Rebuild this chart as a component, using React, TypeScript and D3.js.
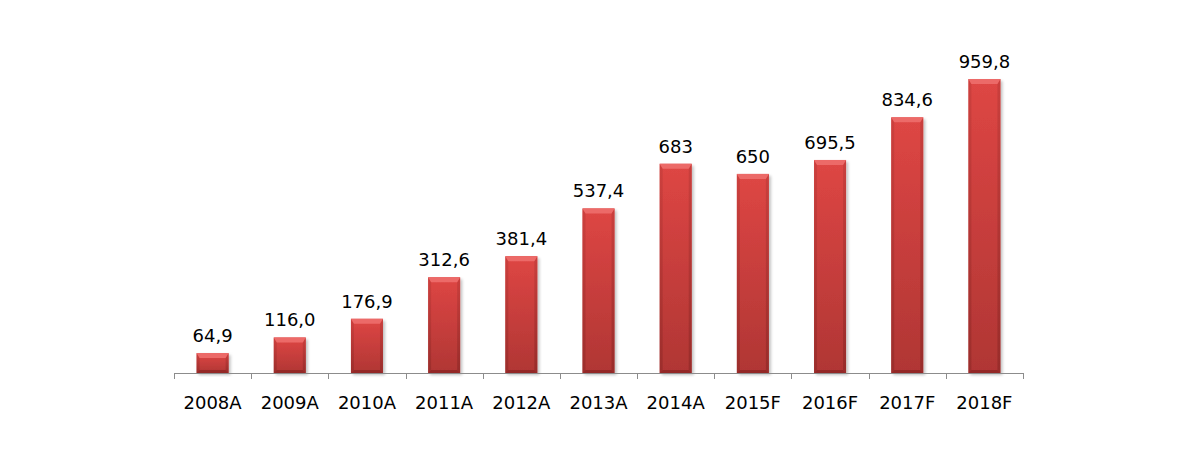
import React from "react";
import * as d3 from "d3";

const categories = ["2008A","2009A","2010A","2011A","2012A","2013A","2014A","2015F","2016F","2017F","2018F"];
const values = [64.9,116.0,176.9,312.6,381.4,537.4,683,650,695.5,834.6,959.8];
const valueLabels = ["64,9","116,0","176,9","312,6","381,4","537,4","683","650","695,5","834,6","959,8"];

export default function App() {
  const W = 1201, H = 449;
  const x = d3.scaleBand<string>().domain(categories).range([174, 1023]).paddingInner(0).paddingOuter(0);
  const y = d3.scaleLinear().domain([0, 959.8]).range([373, 79]);
  const bw = 32;
  const font = "'DejaVu Sans', Verdana, sans-serif";
  return (
    <svg width={W} height={H} style={{ position: "absolute", left: 0, top: 0 }}>
      <defs>
        <linearGradient id="bar" x1="0" y1="0" x2="0" y2="1">
          <stop offset="0" stopColor="#de4644" />
          <stop offset="1" stopColor="#b03634" />
        </linearGradient>
        <linearGradient id="side" x1="0" y1="0" x2="0" y2="1">
          <stop offset="0" stopColor="#c23c3a" />
          <stop offset="1" stopColor="#8e2826" />
        </linearGradient>
        <filter id="sh" x="-30%" y="-10%" width="160%" height="130%">
          <feGaussianBlur in="SourceAlpha" stdDeviation="1.8" />
          <feOffset dx="1.5" dy="1.5" result="o" />
          <feComponentTransfer><feFuncA type="linear" slope="0.25" /></feComponentTransfer>
          <feMerge><feMergeNode /><feMergeNode in="SourceGraphic" /></feMerge>
        </filter>
      </defs>
      {categories.map((c, i) => {
        const cx = (x(c) as number) + x.bandwidth() / 2;
        const x0 = cx - bw / 2, x1 = cx + bw / 2;
        const yt = y(values[i]), yb = y(0);
        const b = Math.min(5, (yb - yt) / 3);
        const s = 3;
        return (
          <g key={c}>
            <g filter="url(#sh)">
              <rect x={x0} y={yt} width={bw} height={yb - yt} fill="url(#bar)" />
            </g>
            <polygon points={`${x0},${yt} ${x0 + s},${yt + b} ${x0 + s},${yb - s} ${x0},${yb}`} fill="url(#side)" opacity={0.6} />
            <polygon points={`${x1},${yt} ${x1 - s},${yt + b} ${x1 - s},${yb - s} ${x1},${yb}`} fill="url(#side)" opacity={0.7} />
            <polygon points={`${x0},${yt} ${x1},${yt} ${x1 - s},${yt + b} ${x0 + s},${yt + b}`} fill="#ec6a68" />
            <polygon points={`${x0},${yb} ${x0 + s},${yb - s} ${x1 - s},${yb - s} ${x1},${yb}`} fill="#882422" opacity={0.7} />
            <text x={cx} y={yt - 11} textAnchor="middle" fontFamily={font} fontSize={18} fill="#000">{valueLabels[i]}</text>
            <text x={cx} y={409} textAnchor="middle" fontFamily={font} fontSize={18} fill="#000">{c}</text>
          </g>
        );
      })}
      <line x1={174} x2={1023} y1={373.5} y2={373.5} stroke="#8c8c8c" strokeWidth={1} />
      {[...categories.map(c => x(c) as number), 1023].map((t, i) => (
        <line key={i} x1={Math.round(t) + 0.5} x2={Math.round(t) + 0.5} y1={373} y2={379} stroke="#8c8c8c" />
      ))}
    </svg>
  );
}
